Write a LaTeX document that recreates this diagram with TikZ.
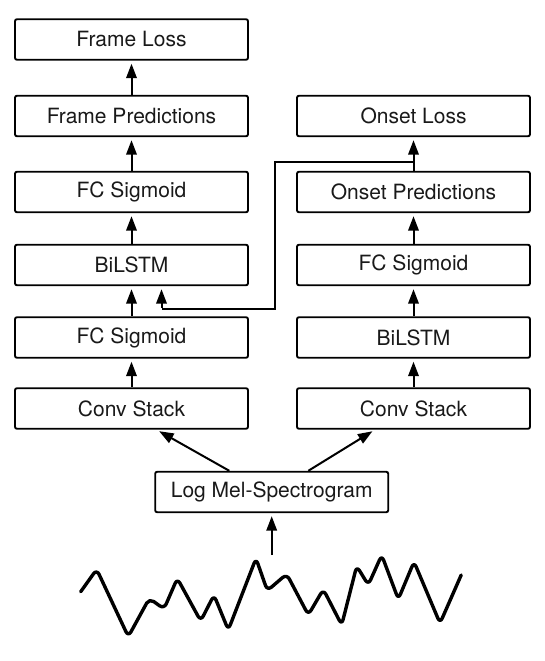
\documentclass[tikz,border=0pt]{standalone}
\usepackage{fontspec}
\setmainfont{TeX Gyre Heros}
\usetikzlibrary{arrows.meta}
\tikzset{
  blk/.style={draw=black, line width=1.9pt, rounded corners=2pt, minimum width=233pt, minimum height=40.5pt, inner sep=0pt, font=\fontsize{21}{24}\selectfont, text=black!90},
  arr/.style={line width=2pt, -{Triangle[width=10.5pt,length=14.5pt]}, shorten >=3pt},
  conn/.style={line width=2pt},
  wave/.style={line width=3.4pt, rounded corners=5.5pt, line cap=round, line join=round}
}
\begin{document}
\begin{tikzpicture}[x=1pt,y=-1pt]
\useasboundingbox (0,0) rectangle (545,661);
% left column
\node[blk] (fl)  at (131.5,39.5) {Frame Loss};
\node[blk] (fp)  at (131.5,116) {Frame Predictions};
\node[blk] (fsl) at (131.5,192) {FC Sigmoid};
\node[blk] (bl)  at (131.5,265) {BiLSTM};
\node[blk] (fsl2) at (131.5,337.5) {FC Sigmoid};
\node[blk] (csl) at (131.5,408.5) {Conv Stack};
% right column
\node[blk] (ol)  at (413.5,116) {Onset Loss};
\node[blk] (op)  at (413.5,192) {Onset Predictions};
\node[blk] (fsr) at (413.5,265) {FC Sigmoid};
\node[blk] (br)  at (413.5,337.5) {BiLSTM};
\node[blk] (csr) at (413.5,408.5) {Conv Stack};
% input
\node[blk] (lm)  at (271.7,492) {Log Mel-Spectrogram};
% vertical arrows
\draw[arr] (fp.north) -- (fl.south);
\draw[arr] (fsl.north) -- (fp.south);
\draw[arr] (bl.north) -- (fsl.south);
\draw[arr] (fsl2.north) -- (bl.south);
\draw[arr] (csl.north) -- (fsl2.south);
\draw[arr] (op.north) -- (ol.south);
\draw[arr] (fsr.north) -- (op.south);
\draw[arr] (br.north) -- (fsr.south);
\draw[arr] (csr.north) -- (br.south);
% skip connection
\coordinate (j)  at (413.5,162);
\coordinate (k1) at (275,162);
\coordinate (k2) at (275,308.5);
\coordinate (k3) at (161.5,308.5);
\draw[conn, line join=miter] (j) -- (k1) -- (k2) -- (k3);
\draw[arr] ([yshift=1pt]k3) -- (k3 |- bl.south);
% from log mel
\draw[arr] ([xshift=-42.4pt]lm.north) -- ([xshift=25pt]csl.south);
\draw[arr] ([xshift=36.6pt]lm.north) -- ([xshift=-38.5pt]csr.south);
\coordinate (w) at (271.7,555);
\draw[arr] (w) -- (lm.south);
% waveform
\draw[wave] (80.7,591.7) -- (96.7,569.3) -- (128.3,636.7) -- (149.3,598.3) -- (164,609) -- (177.3,578.3) -- (200.7,621) -- (214,595) -- (228.3,630) -- (256,558.3) -- (267.3,590.7) -- (286.7,574) -- (308.3,615) -- (323.3,589.3) -- (341.7,625) -- (356.7,566) -- (368.3,585) -- (381.7,555) -- (398.3,599.3) -- (414,561.7) -- (440,623.3) -- (461.2,575);
\end{tikzpicture}
\end{document}
